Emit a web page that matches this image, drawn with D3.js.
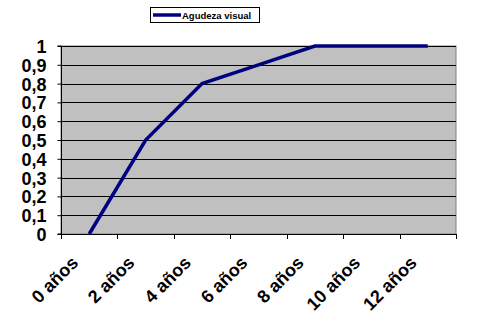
<!DOCTYPE html>
<html><head><meta charset="utf-8">
<script src="https://cdn.jsdelivr.net/npm/d3@7"></script>
<style>body{margin:0;background:#fff}</style>
</head><body>
<svg id="c" width="500" height="334"></svg>
<script>
const categories = ["0 años","2 años","4 años","6 años","8 años","10 años","12 años"];
const values = [0, 0.5, 0.8, 0.9, 1, 1, 1];
const yTicks = [0,0.1,0.2,0.3,0.4,0.5,0.6,0.7,0.8,0.9,1];
const seriesName = "Agudeza visual";

const svg = d3.select("#c");
const L = 61, R = 456, T = 46, B = 234;
const x = d3.scaleBand().domain(categories).range([L, R]).padding(0);
const y = d3.scaleLinear().domain([0, 1]).range([B, T]);
const font = "Arial, 'Liberation Sans', sans-serif";

svg.append("rect").attr("x", L).attr("y", T).attr("width", R - L).attr("height", B - T)
  .attr("fill", "#c0c0c0").attr("stroke", "#808080").attr("stroke-width", 1);

// gridlines
svg.append("g").selectAll("line").data(yTicks.slice(1)).join("line")
  .attr("x1", L).attr("x2", R).attr("y1", d => Math.round(y(d)) + 0.5).attr("y2", d => Math.round(y(d)) + 0.5)
  .attr("stroke", "#000").attr("stroke-width", 1);

// y axis
const yAxis = d3.axisLeft(y).tickValues(yTicks).tickSize(4).tickFormat(d => String(d).replace(".", ","));
const gy = svg.append("g").attr("transform", `translate(${L + 0.5},0)`).call(yAxis);
gy.select(".domain").attr("stroke", "#000").attr("d", `M-4,${T}H0V${B}H-4`);
gy.selectAll(".tick line").attr("stroke", "#000");
gy.selectAll(".tick text").attr("x", -15).attr("dy", "0.36em")
  .style("font-family", font).style("font-weight", "bold").style("font-size", "18px").attr("fill", "#000");

// x axis
const tickPos = categories.map(c => x(c)).concat([R]);
svg.append("line").attr("x1", L).attr("x2", R).attr("y1", B + 0.5).attr("y2", B + 0.5).attr("stroke", "#000");
svg.append("g").selectAll("line").data(tickPos).join("line")
  .attr("x1", d => Math.round(d) + 0.5).attr("x2", d => Math.round(d) + 0.5)
  .attr("y1", B).attr("y2", B + 5).attr("stroke", "#000");
svg.append("g").selectAll("text").data(categories).join("text")
  .attr("transform", d => `translate(${x(d) + x.bandwidth() / 2 - 10},${B + 30}) rotate(-45)`)
  .attr("text-anchor", "end")
  .style("font-family", font).style("font-weight", "bold").style("font-size", "18px").attr("fill", "#000")
  .text(d => d);

// line
const line = d3.line().x((d, i) => x(categories[i]) + x.bandwidth() / 2).y(d => y(d));
svg.append("path").datum(values).attr("d", line).attr("fill", "none")
  .attr("stroke", "#000080").attr("stroke-width", 3.5).attr("stroke-linejoin", "miter");

// legend
const lg = svg.append("g");
lg.append("rect").attr("x", 150.5).attr("y", 7.5).attr("width", 109).attr("height", 15)
  .attr("fill", "#fff").attr("stroke", "#000").attr("stroke-width", 1);
lg.append("line").attr("x1", 153).attr("x2", 181).attr("y1", 15).attr("y2", 15)
  .attr("stroke", "#000080").attr("stroke-width", 3.5);
lg.append("text").attr("x", 182).attr("y", 18.5).text(seriesName)
  .style("font-family", font).style("font-weight", "bold").style("font-size", "9.5px").attr("fill", "#000");
</script>
</body></html>
